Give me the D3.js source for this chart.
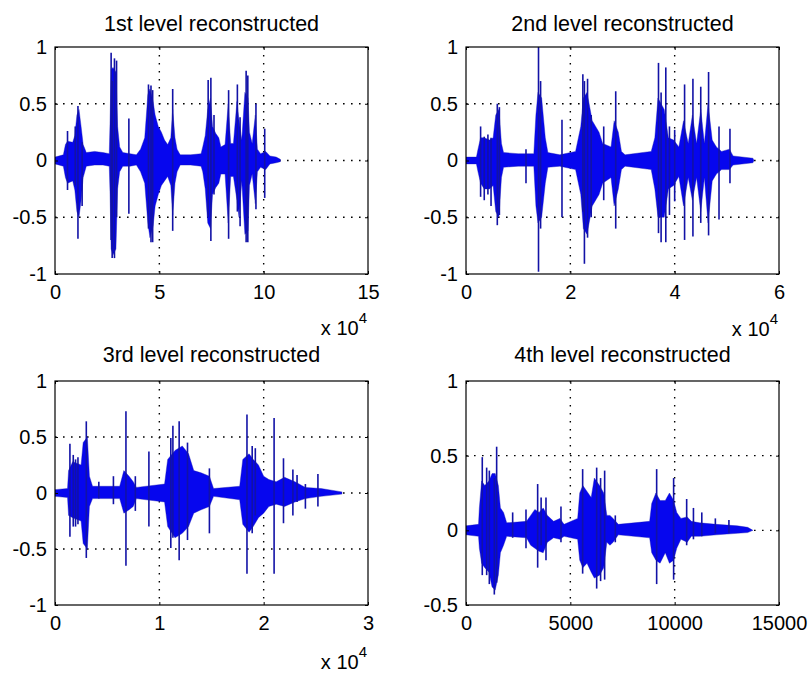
<!DOCTYPE html>
<html><head><meta charset="utf-8">
<script src="https://cdn.jsdelivr.net/npm/d3@7"></script>
<style>
html,body{margin:0;padding:0;background:#fff;}
svg{display:block;}
text{font-family:"Liberation Sans",Arial,Helvetica,sans-serif;fill:#000;}
</style>
</head><body>
<svg id="chart" width="809" height="673"></svg>
<script>
// ---------- DATA ----------
// Panel titles
const titles = ["1st level reconstructed","2nd level reconstructed","3rd level reconstructed","4th level reconstructed"];
// x tick values / labels (panels 1-3 are in units of 10^4 samples)
const p1XTicks = [0,5,10,15],        p1XLabels = ["0","5","10","15"];
const p2XTicks = [0,2,4,6],          p2XLabels = ["0","2","4","6"];
const p3XTicks = [0,1,2,3],          p3XLabels = ["0","1","2","3"];
const p4XTicks = [0,5000,10000,15000], p4XLabels = ["0","5000","10000","15000"];
const yTicksA = [-1,-0.5,0,0.5,1],   yLabelsA = ["-1","-0.5","0","0.5","1"];
const yTicksB = [-0.5,0,0.5,1],      yLabelsB = ["-0.5","0","0.5","1"];
const exponents = ["4","4","4",null];

// Panel 1 : envelope of dense signal body
const p1X  = [0,0.40,0.50,0.60,0.85,0.95,1.05,1.15,1.25,1.35,1.50,1.90,2.30,2.60,2.64,2.69,2.78,2.92,3.00,3.10,3.25,3.60,3.90,4.10,4.30,4.45,4.55,4.70,4.80,4.95,5.10,5.25,5.40,5.55,5.64,5.75,5.85,6.00,6.50,7.00,7.08,7.20,7.32,7.45,7.55,7.70,7.85,7.95,8.15,8.30,8.42,8.55,8.72,8.82,8.95,9.10,9.25,9.32,9.45,9.60,9.70,9.85,10.10,10.30,10.60,10.80];
const p1Hi = [0.03,0.05,0.14,0.17,0.16,0.22,0.40,0.45,0.30,0.14,0.07,0.08,0.07,0.06,0.35,0.80,0.82,0.78,0.30,0.12,0.07,0.06,0.05,0.10,0.20,0.58,0.63,0.52,0.40,0.30,0.25,0.18,0.14,0.20,0.45,0.20,0.10,0.05,0.05,0.06,0.12,0.22,0.45,0.55,0.30,0.24,0.20,0.12,0.14,0.50,0.15,0.15,0.52,0.35,0.18,0.60,0.55,0.25,0.15,0.40,0.10,0.06,0.08,0.04,0.03,0.01];
const p1Lo = [-0.03,-0.05,-0.15,-0.20,-0.18,-0.26,-0.45,-0.50,-0.35,-0.15,-0.05,-0.04,-0.04,-0.05,-0.30,-0.78,-0.83,-0.78,-0.25,-0.10,-0.05,-0.05,-0.04,-0.10,-0.20,-0.55,-0.68,-0.58,-0.40,-0.30,-0.22,-0.18,-0.14,-0.22,-0.48,-0.20,-0.10,-0.04,-0.04,-0.05,-0.10,-0.25,-0.55,-0.60,-0.30,-0.24,-0.20,-0.12,-0.12,-0.55,-0.14,-0.14,-0.35,-0.50,-0.18,-0.65,-0.62,-0.22,-0.12,-0.38,-0.10,-0.06,-0.08,-0.03,-0.02,-0.01];
// Panel 1 : isolated peaks
const p1SpX  = [0.60,0.97,1.10,1.30,2.69,2.74,2.85,2.95,3.54,4.48,4.60,4.68,5.64,7.34,7.47,7.62,8.32,8.74,8.87,9.16,9.24,9.63,10.05];
const p1SpHi = [0.26,0.30,0.48,0.16,0.95,0.70,0.90,0.88,0.37,0.67,0.66,0.62,0.63,0.71,0.73,0.40,0.62,0.67,0.38,0.79,0.75,0.50,0.28];
const p1SpLo = [-0.26,-0.22,-0.69,-0.40,-0.70,-0.86,-0.86,-0.50,-0.47,-0.60,-0.72,-0.72,-0.62,-0.50,-0.71,-0.30,-0.69,-0.45,-0.58,-0.72,-0.72,-0.43,-0.33];

// Panel 2
const p2X  = [0,0.20,0.23,0.28,0.35,0.45,0.52,0.57,0.63,0.68,0.72,1.00,1.30,1.34,1.38,1.45,1.52,1.57,1.80,2.10,2.20,2.25,2.32,2.42,2.55,2.62,2.78,2.84,2.92,2.98,3.05,3.55,3.62,3.68,3.80,3.88,3.98,4.08,4.17,4.26,4.34,4.42,4.50,4.57,4.64,4.72,4.80,4.90,5.05,5.12,5.50,5.52];
const p2Hi = [0.03,0.03,0.10,0.20,0.20,0.18,0.20,0.40,0.45,0.15,0.07,0.06,0.06,0.40,0.60,0.55,0.20,0.07,0.05,0.08,0.30,0.55,0.60,0.35,0.25,0.15,0.12,0.35,0.25,0.08,0.05,0.08,0.20,0.55,0.45,0.20,0.18,0.12,0.35,0.15,0.40,0.15,0.45,0.15,0.50,0.18,0.12,0.08,0.10,0.04,0.02,0.00];
const p2Lo = [-0.03,-0.03,-0.10,-0.20,-0.25,-0.25,-0.22,-0.45,-0.50,-0.15,-0.06,-0.05,-0.05,-0.40,-0.55,-0.50,-0.20,-0.06,-0.05,-0.08,-0.30,-0.60,-0.65,-0.40,-0.30,-0.20,-0.15,-0.40,-0.25,-0.08,-0.05,-0.08,-0.25,-0.50,-0.50,-0.25,-0.22,-0.14,-0.40,-0.15,-0.35,-0.15,-0.45,-0.15,-0.55,-0.18,-0.12,-0.08,-0.08,-0.04,-0.02,0.00];
const p2SpX  = [0.28,0.35,0.42,0.48,0.60,0.64,1.15,1.39,1.43,1.84,2.24,2.27,2.33,2.40,2.64,2.87,3.69,3.74,3.83,3.90,4.00,4.19,4.35,4.50,4.65,4.85,5.06];
const p2SpHi = [0.30,0.21,0.23,0.20,0.50,0.47,0.10,1.00,0.70,0.36,0.76,0.70,0.72,0.40,0.30,0.61,0.86,0.60,0.82,0.30,0.27,0.67,0.72,0.65,0.78,0.30,0.28];
const p2SpLo = [-0.32,-0.35,-0.30,-0.40,-0.57,-0.48,-0.20,-0.98,-0.60,-0.50,-0.45,-0.91,-0.68,-0.50,-0.35,-0.60,-0.64,-0.72,-0.72,-0.48,-0.36,-0.70,-0.67,-0.55,-0.66,-0.52,-0.20];

// Panel 3
const p3X  = [0,0.12,0.13,0.17,0.25,0.27,0.31,0.33,0.36,0.62,0.66,0.71,0.75,0.78,1.05,1.08,1.15,1.22,1.28,1.33,1.40,1.48,1.52,1.77,1.80,1.86,1.90,1.95,2.00,2.05,2.12,2.20,2.30,2.40,2.55,2.75];
const p3Hi = [0.03,0.04,0.20,0.28,0.25,0.45,0.50,0.15,0.06,0.06,0.20,0.15,0.10,0.05,0.08,0.30,0.38,0.42,0.35,0.20,0.18,0.15,0.04,0.06,0.30,0.35,0.30,0.25,0.15,0.12,0.10,0.14,0.10,0.05,0.04,0.01];
const p3Lo = [-0.03,-0.04,-0.20,-0.22,-0.25,-0.45,-0.50,-0.12,-0.05,-0.05,-0.18,-0.15,-0.12,-0.05,-0.08,-0.30,-0.40,-0.36,-0.30,-0.18,-0.15,-0.12,-0.03,-0.06,-0.28,-0.35,-0.30,-0.22,-0.18,-0.12,-0.10,-0.12,-0.08,-0.05,-0.03,-0.01];
const p3SpX  = [0.143,0.175,0.197,0.22,0.30,0.42,0.56,0.68,0.77,0.90,1.11,1.13,1.19,1.27,1.48,1.84,1.89,1.92,2.10,2.19,2.28,2.32,2.40,2.52];
const p3SpHi = [0.44,0.34,0.30,0.32,0.64,0.10,0.15,0.73,0.15,0.37,0.49,0.60,0.64,0.45,0.22,0.70,0.42,0.40,0.67,0.31,0.21,0.16,0.08,0.17];
const p3SpLo = [-0.39,-0.30,-0.30,-0.28,-0.58,-0.05,-0.10,-0.65,-0.16,-0.30,-0.49,-0.40,-0.60,-0.42,-0.36,-0.72,-0.36,-0.20,-0.72,-0.27,-0.20,-0.08,-0.14,-0.12];

// Panel 4 (raw sample index)
const p4X  = [0,600,640,750,900,1100,1250,1400,1550,1650,1800,1950,2900,3100,3300,3500,3700,3900,4200,4500,4700,5350,5450,5600,5800,6000,6150,6400,6600,6750,6900,7050,7300,8800,8900,9100,9300,9550,9750,9950,10100,10300,10600,10800,11200,12000,13000,13500,13750];
const p4Hi = [0.03,0.04,0.15,0.33,0.30,0.33,0.38,0.38,0.30,0.15,0.12,0.05,0.06,0.10,0.14,0.12,0.15,0.10,0.06,0.08,0.04,0.08,0.25,0.30,0.26,0.22,0.35,0.30,0.25,0.10,0.10,0.08,0.04,0.06,0.18,0.25,0.20,0.20,0.25,0.20,0.12,0.08,0.09,0.06,0.05,0.04,0.03,0.02,0.00];
const p4Lo = [-0.03,-0.04,-0.12,-0.22,-0.25,-0.28,-0.38,-0.40,-0.30,-0.15,-0.10,-0.04,-0.05,-0.10,-0.12,-0.14,-0.15,-0.08,-0.05,-0.06,-0.04,-0.06,-0.20,-0.25,-0.22,-0.28,-0.32,-0.30,-0.25,-0.08,-0.10,-0.08,-0.03,-0.05,-0.15,-0.20,-0.22,-0.15,-0.22,-0.20,-0.12,-0.06,-0.08,-0.04,-0.04,-0.03,-0.02,-0.015,0.00];
const p4SpX  = [780,990,1118,1357,1469,2236,2875,3434,3600,3833,4551,5590,6262,6450,6644,7155,9137,9950,10575,10900,11300,11950,12600];
const p4SpHi = [0.49,0.42,0.40,0.35,0.56,0.12,0.14,0.31,0.22,0.22,0.16,0.41,0.42,0.35,0.40,0.10,0.41,0.35,0.21,0.15,0.12,0.08,0.07];
const p4SpLo = [-0.30,-0.30,-0.36,-0.43,-0.35,-0.05,-0.12,-0.25,-0.10,-0.20,-0.08,-0.29,-0.39,-0.34,-0.33,-0.08,-0.36,-0.33,-0.10,-0.06,-0.04,-0.02,-0.02];

// ---------- LAYOUT ----------
const layout = [
  {left:55,  right:368, top:47,  bottom:274, titleY:31,  expY:335},
  {left:466, right:779, top:47,  bottom:274, titleY:31,  expY:336},
  {left:55,  right:368, top:381, bottom:605, titleY:362, expY:669},
  {left:466, right:779, top:381, bottom:605, titleY:362, expY:null}
];

const panels = [
  {xDomain:[0,15],    yDomain:[-1,1],   xTicks:p1XTicks, xLabels:p1XLabels, yTicks:yTicksA, yLabels:yLabelsA, bx:p1X, bh:p1Hi, bl:p1Lo, sx:p1SpX, sh:p1SpHi, sl:p1SpLo},
  {xDomain:[0,6],     yDomain:[-1,1],   xTicks:p2XTicks, xLabels:p2XLabels, yTicks:yTicksA, yLabels:yLabelsA, bx:p2X, bh:p2Hi, bl:p2Lo, sx:p2SpX, sh:p2SpHi, sl:p2SpLo},
  {xDomain:[0,3],     yDomain:[-1,1],   xTicks:p3XTicks, xLabels:p3XLabels, yTicks:yTicksA, yLabels:yLabelsA, bx:p3X, bh:p3Hi, bl:p3Lo, sx:p3SpX, sh:p3SpHi, sl:p3SpLo},
  {xDomain:[0,15000], yDomain:[-0.5,1], xTicks:p4XTicks, xLabels:p4XLabels, yTicks:yTicksB, yLabels:yLabelsB, bx:p4X, bh:p4Hi, bl:p4Lo, sx:p4SpX, sh:p4SpHi, sl:p4SpLo}
];

const svg = d3.select("#chart");
svg.append("rect").attr("width",809).attr("height",673).attr("fill","#fff");

const BODY = "#0606ee", EDGE = "#1414b4", SPIKE = "#1212a6";

panels.forEach((p, k) => {
  const L = layout[k];
  const x = d3.scaleLinear().domain(p.xDomain).range([L.left, L.right]);
  const y = d3.scaleLinear().domain(p.yDomain).range([L.bottom, L.top]);
  const g = svg.append("g");
  const clipId = "clip" + k;
  svg.append("clipPath").attr("id", clipId).append("rect")
    .attr("x", L.left).attr("y", L.top).attr("width", L.right - L.left).attr("height", L.bottom - L.top);

  // dotted grid
  const grid = g.append("g").attr("stroke", "#000").attr("stroke-width", 1.4).attr("stroke-dasharray", "1.6,6.4");
  grid.selectAll("line.gx").data(p.xTicks.slice(1, -1)).join("line")
    .attr("x1", d => x(d)).attr("x2", d => x(d)).attr("y1", L.top).attr("y2", L.bottom);
  grid.selectAll("line.gy").data(p.yTicks.slice(1, -1)).join("line")
    .attr("y1", d => y(d)).attr("y2", d => y(d)).attr("x1", L.left).attr("x2", L.right);

  const data = g.append("g").attr("clip-path", `url(#${clipId})`);
  // body envelope
  const body = p.bx.map((t, i) => ({t, hi: p.bh[i], lo: p.bl[i]}));
  data.append("path").datum(body)
    .attr("d", d3.area().x(d => x(d.t)).y0(d => y(d.lo)).y1(d => y(d.hi)))
    .attr("fill", BODY).attr("stroke", EDGE).attr("stroke-width", 0.4);
  // peaks
  const spikes = p.sx.map((t, i) => ({t, hi: p.sh[i], lo: p.sl[i]}));
  data.selectAll("line.sp").data(spikes).join("line")
    .attr("x1", d => x(d.t)).attr("x2", d => x(d.t))
    .attr("y1", d => y(d.lo)).attr("y2", d => y(d.hi))
    .attr("stroke", SPIKE).attr("stroke-width", 1.6);

  // axes (MATLAB-style inward ticks)
  const styleAxis = sel => {
    sel.select(".domain").remove();
    sel.selectAll(".tick line").attr("stroke", "#000");
    sel.selectAll("text").attr("font-size", 20).attr("fill", "#000")
      .attr("font-family", '"Liberation Sans",Arial,sans-serif');
  };
  g.append("g").attr("transform", `translate(0,${L.bottom})`)
    .call(d3.axisBottom(x).tickValues(p.xTicks).tickFormat((d, i) => p.xLabels[i]).tickSizeInner(-3).tickSizeOuter(0).tickPadding(11))
    .call(styleAxis);
  g.append("g").attr("transform", `translate(0,${L.top})`)
    .call(d3.axisTop(x).tickValues(p.xTicks).tickFormat("").tickSizeInner(-3).tickSizeOuter(0))
    .call(styleAxis);
  g.append("g").attr("transform", `translate(${L.left},0)`)
    .call(d3.axisLeft(y).tickValues(p.yTicks).tickFormat((d, i) => p.yLabels[i]).tickSizeInner(-3).tickSizeOuter(0).tickPadding(8))
    .call(styleAxis);
  g.append("g").attr("transform", `translate(${L.right},0)`)
    .call(d3.axisRight(y).tickValues(p.yTicks).tickFormat("").tickSizeInner(-3).tickSizeOuter(0))
    .call(styleAxis);

  // box
  g.append("rect").attr("x", L.left).attr("y", L.top)
    .attr("width", L.right - L.left).attr("height", L.bottom - L.top)
    .attr("fill", "none").attr("stroke", "#000").attr("stroke-width", 1.2);

  // title
  g.append("text").attr("x", (L.left + L.right) / 2).attr("y", L.titleY)
    .attr("text-anchor", "middle").attr("font-size", 21.5).text(titles[k]);

  // exponent label
  if (exponents[k]) {
    const t = g.append("text").attr("x", L.right - 1).attr("y", L.expY)
      .attr("text-anchor", "end").attr("font-size", 20);
    t.append("tspan").text("x 10");
    t.append("tspan").attr("font-size", 15).attr("dy", -12).text(exponents[k]);
  }
});
</script>
</body></html>
